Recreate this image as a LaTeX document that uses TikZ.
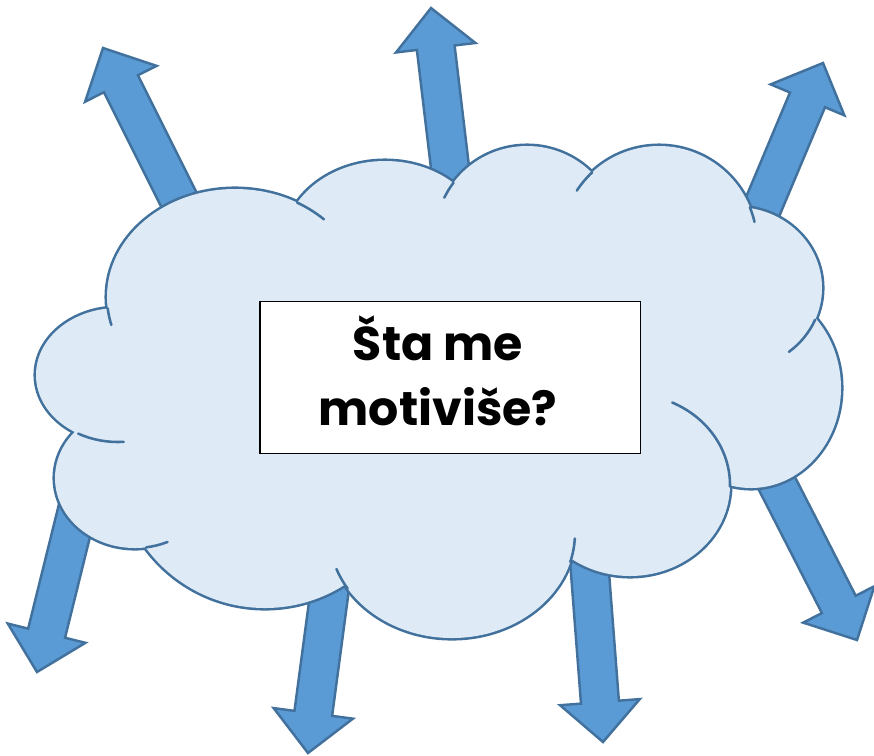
\documentclass[tikz,border=0pt]{standalone}
\usepackage{fontspec}
\newfontfamily\motivfont{Poppins}
\definecolor{cloudfill}{HTML}{DEEBF7}
\definecolor{cloudline}{HTML}{41719C}
\definecolor{arrowfill}{HTML}{5B9BD5}

% tip x, tip y, direction of the arrow
\newcommand{\motivarrow}[3]{%
  \draw[arrowbody, shift={(#1,#2)}, rotate=#3]
    (0,0) -- (-40,40) -- (-40,19) -- (-220,19) -- (-220,-19) -- (-40,-19) -- (-40,-40) -- cycle;}

\begin{document}
\begin{tikzpicture}[x=0.02cm, y=-0.02cm,
    arrowbody/.style={fill=arrowfill, draw=cloudline, line width=1.4pt, line join=miter},
    cloudedge/.style={draw=cloudline, line width=2.9pt},
    cloudinner/.style={draw=cloudline, line width=1.45pt, line cap=round},
    qbox/.style={draw=black, fill=white, line width=1.1pt, minimum width=7.62cm, minimum height=3.04cm, inner sep=0pt},
    qtext/.style={align=center, font=\motivfont\bfseries\fontsize{27}{37}\selectfont}]
    \useasboundingbox (0,0) rectangle (874,755);

    \motivarrow{103}{48}{116.6}
    \motivarrow{431}{8}{96.8}
    \motivarrow{823}{63}{67.2}
    \motivarrow{37}{672}{256.1}
    \motivarrow{308}{753}{262.4}
    \motivarrow{603}{742}{274.4}
    \motivarrow{857}{640}{297.1}

    % cloud: lobes stroked wide, then filled over
    \foreach \cx/\cy/\rx/\ry in {235/297/128/108, 385/246/102/85, 527/238/92/92, 659/244/98/98,
        736/288/86/81, 751/388/90/100, 630/485/100/91, 452/533/123/105, 265/460/148/148,
        135/478/80/70, 118/375/82/67}
        \draw[cloudedge] (\cx,\cy) ellipse [x radius=\rx, y radius=\ry];
    \foreach \cx/\cy/\rx/\ry in {235/297/128/108, 385/246/102/85, 527/238/92/92, 659/244/98/98,
        736/288/86/81, 751/388/90/100, 630/485/100/91, 452/533/123/105, 265/460/148/148,
        135/478/80/70, 118/375/82/67}
        \fill[cloudfill] (\cx,\cy) ellipse [x radius=\rx, y radius=\ry];
    \fill[cloudfill] (120,312) -- (300,213) -- (453,195) -- (592,185) -- (745,218) -- (805,322)
        -- (728,478) -- (566,552) -- (343,580) -- (150,536) -- (88,432) -- cycle;

    \foreach \cx/\cy/\rx/\ry/\a/\b in {235/297/128/108/-61/-46, 527/238/92/92/217/206,
        659/244/98/98/227/213, 659/244/98/98/-22/-13, 736/288/86/81/23/52, 630/485/100/91/1/-65,
        452/533/123/105/16/3, 452/533/123/105/148/160, 135/478/80/70/82/66,
        118/375/82/67/119/86, 235/297/128/108/174/165}
        \draw[cloudinner] (\cx,\cy) ++(\a:{\rx} and {\ry}) arc [start angle=\a, end angle=\b, x radius=\rx, y radius=\ry];

    \node[qbox] (frame) at (450,377.5) {};
    \node[qtext] (question) at (438,371) {Šta me\\motiviše?};
\end{tikzpicture}
\end{document}
